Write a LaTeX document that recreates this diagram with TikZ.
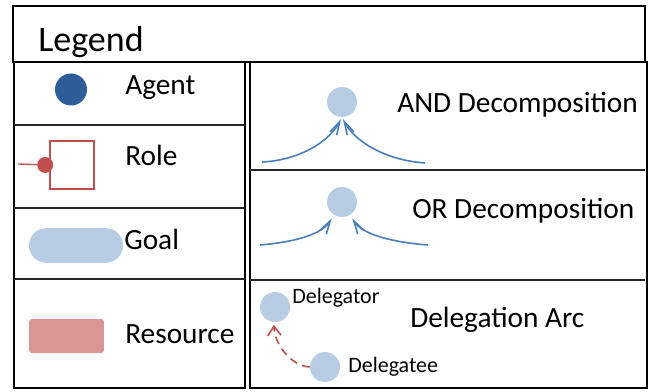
\documentclass[tikz,border=0pt]{standalone}
\usepackage{fontspec}
\setmainfont{Carlito}
\usetikzlibrary{arrows.meta,shadows}
\definecolor{agentblue}{HTML}{2F5D9A}
\definecolor{goalblue}{HTML}{B8CCE4}
\definecolor{linkblue}{HTML}{4A7EBB}
\definecolor{rolered}{HTML}{C0504D}
\definecolor{resred}{HTML}{DA9694}
\tikzset{
	lbl/.style={anchor=base west, inner sep=0pt, font=\fontsize{22pt}{26pt}\selectfont},
	smalllbl/.style={anchor=base west, inner sep=0pt, font=\fontsize{16.5pt}{19pt}\selectfont},
	goalpt/.style={circle, fill=goalblue, minimum size=22.5pt, inner sep=0pt},
	decomp/.style={linkblue, line width=1.2pt, -{Straight Barb[length=10pt,width=5.5pt]}},
	sep/.style={line width=1.2pt, black!85}
}
\begin{document}
\begin{tikzpicture}[x=0.75pt, y=-0.75pt]
	\useasboundingbox (0,0) rectangle (656,392);
	%rahmen
	\draw[line width=2.2pt] (13,6) rectangle (645,62);
	\draw[line width=2.2pt] (14,62) rectangle (245,388);
	\draw[line width=2.2pt] (250,62) rectangle (647,388);
	\draw[sep] (14,125) -- (245,125);
	\draw[sep] (14,208) -- (245,208);
	\draw[sep] (14,279) -- (245,279);
	\draw[sep] (250,170) -- (645,170);
	\draw[sep] (250,280) -- (645,280);
	\node[anchor=base west, inner sep=0pt, font=\fontsize{27pt}{32pt}\selectfont] (legend) at (38,52) {Legend};
	%links
	\node[circle, fill=agentblue, minimum size=24pt, inner sep=0pt] (agent) at (71,89.5) {};
	\node[lbl] (agenttxt) at (125,95) {Agent};
	\node[draw=rolered, line width=1.2pt, fill=white, minimum width=33pt, minimum height=36pt, inner sep=0pt,
		drop shadow={fill=black!25, shadow xshift=1pt, shadow yshift=-1pt}] (role) at (72,165) {};
	\node[circle, fill=rolered, minimum size=12pt, inner sep=0pt] (rolept) at ([xshift=-3pt]role.west) {};
	\coordinate (roleend) at (18,164);
	\draw[rolered, line width=1pt] (roleend) -- (rolept);
	\node[lbl] (roletxt) at (125,166) {Role};
	\node[fill=goalblue, rounded corners=13pt, minimum width=70.5pt, minimum height=26pt, inner sep=0pt] (goal) at (76,245.5) {};
	\node[lbl] (goaltxt) at (124,249) {Goal};
	\node[fill=resred, rounded corners=2pt, minimum width=56pt, minimum height=25.5pt, inner sep=0pt] (res) at (66.5,336) {};
	\node[lbl] (restxt) at (125,343) {Resource};
	%rechts: and
	\node[goalpt] (and) at (342,102) {};
	\coordinate (andl) at (262,162);
	\coordinate (andr) at (425,163);
	\draw[decomp, shorten >=1.5pt] (andl) .. controls (302,160) and (330,140) .. (and.south);
	\draw[decomp, shorten >=1.5pt] (andr) .. controls (383,160) and (354,140) .. (and.south);
	\node[lbl] (andtxt) at (397,113) {AND Decomposition};
	%or
	\node[goalpt] (or) at (342,202) {};
	\coordinate (orl) at (260,245);
	\coordinate (orr) at (428,245);
	\draw[decomp, shorten >=3pt] (orl) .. controls (296,242) and (322,234) .. (or.238);
	\draw[decomp, shorten >=3pt] (orr) .. controls (390,242) and (362,234) .. (or.302);
	\node[lbl] (ortxt) at (412,218) {OR Decomposition};
	%delegation
	\node[goalpt] (dgor) at (275,307) {};
	\node[goalpt] (dgee) at (325,367) {};
	\draw[rolered, line width=1.2pt, dash pattern=on 6pt off 4pt, -{Straight Barb[length=7pt,width=10pt]}, shorten >=2pt]
		(dgee.west) .. controls (292,366) and (275,346) .. (dgor.-95);
	\node[smalllbl] (dgortxt) at (292,303) {Delegator};
	\node[smalllbl] (dgeetxt) at (348,372) {Delegatee};
	\node[lbl] (dgtxt) at (410,327) {Delegation Arc};
\end{tikzpicture}
\end{document}
